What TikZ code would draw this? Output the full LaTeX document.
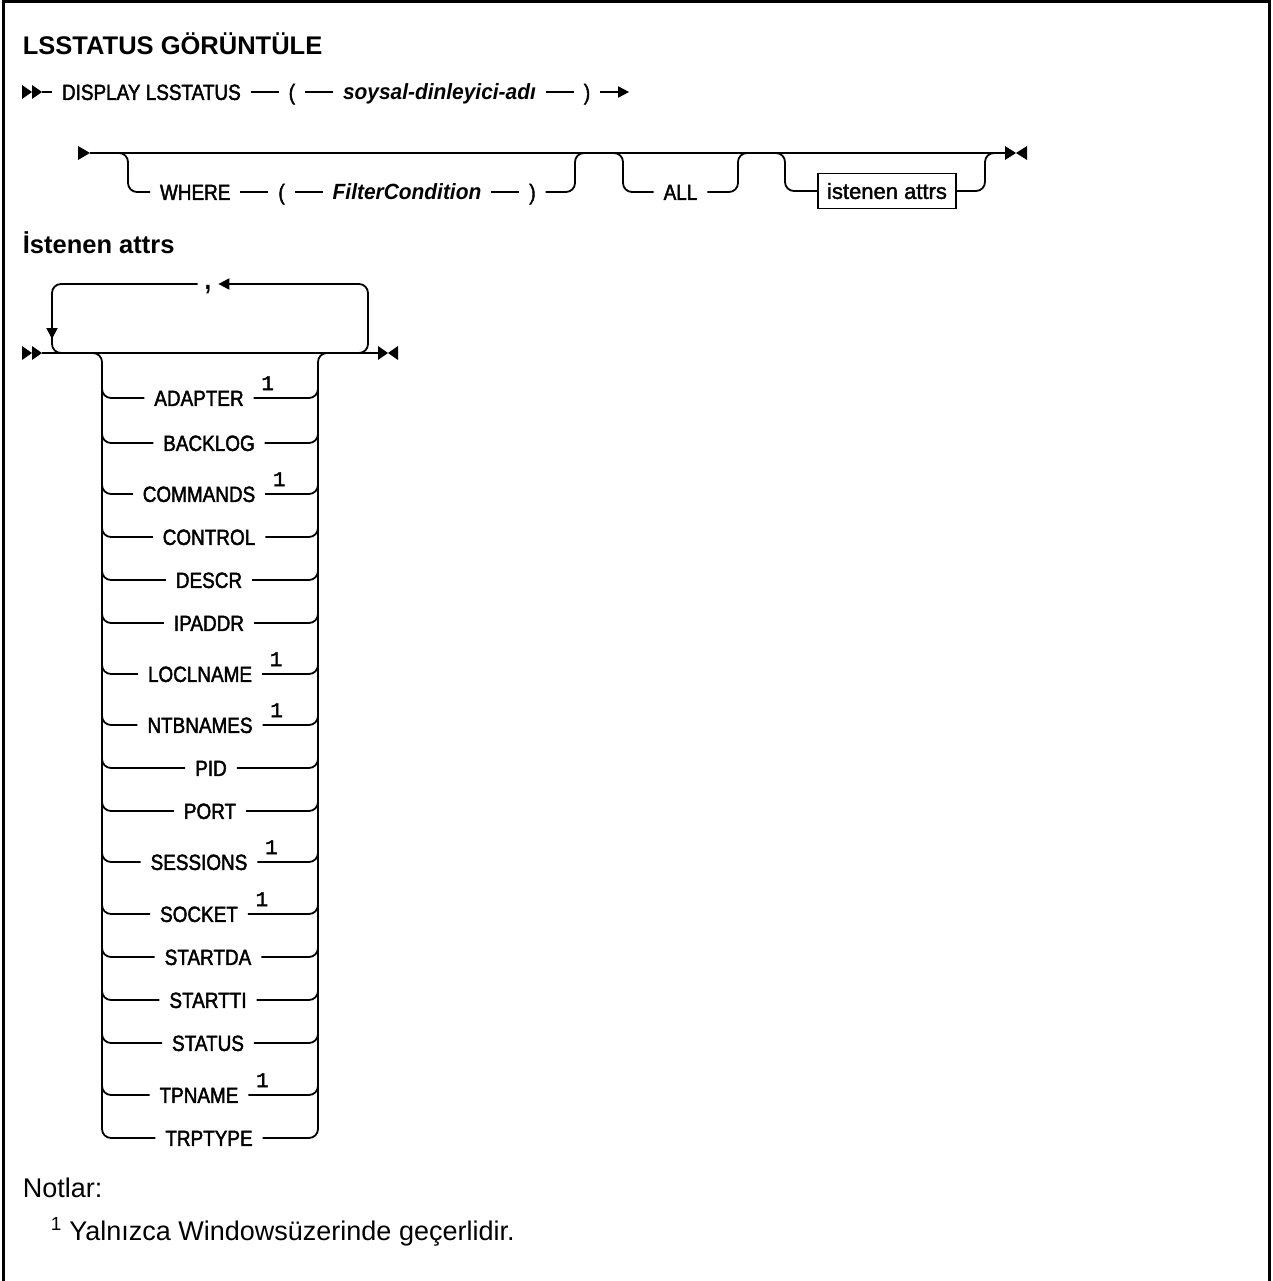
\documentclass[tikz,border=0pt]{standalone}
\usepackage{fontspec}
\setmainfont{Liberation Sans}
\newfontfamily\railfont[FakeStretch=0.86, UprightFeatures={FakeBold=2}]{Liberation Sans}
\newfontfamily\varfont[FakeStretch=0.95]{Liberation Sans}
\newfontfamily\boxfont[FakeBold=1.8]{Liberation Sans}
\newfontfamily\digitfont[FakeBold=1.6]{Liberation Mono}
\usetikzlibrary{arrows.meta, positioning}

\begin{document}
\begin{tikzpicture}[x=1pt, y=-1pt, line width=1.8pt,
  kw/.style={font=\railfont\fontsize{22}{26}\selectfont, inner sep=0pt, outer xsep=10pt, text height=15.8pt, text depth=0pt},
  var/.style={kw, font=\varfont\bfseries\itshape\fontsize{22}{26}\selectfont},
  attrbox/.style={draw, sharp corners, line width=1.4pt, font=\boxfont\fontsize{22}{26}\selectfont, inner xsep=9pt, inner ysep=0pt, minimum height=35pt, text height=15.8pt, text depth=0pt},
  sepmark/.style={font=\railfont\bfseries\fontsize{28}{30}\selectfont, inner sep=0pt, outer xsep=7pt, text height=10pt, text depth=0pt},
  fn/.style={font=\digitfont\fontsize{21}{22}\selectfont, inner sep=0pt, anchor=south},
  head/.style={font=\bfseries\fontsize{25.5}{30}\selectfont, inner sep=0pt, anchor=base west},
  note/.style={font=\fontsize{27}{32}\selectfont, inner sep=0pt, anchor=base west},
  rounded corners=9pt]
  \useasboundingbox (0,0) rectangle (1272,1281);
  \draw[line width=3pt, sharp corners] (3,1281) -- (3,1.5) -- (1269.5,1.5) -- (1269.5,1281);

  \node[head] (title) at (22,55) {LSSTATUS GÖRÜNTÜLE};

  \fill[sharp corners] (22,85) -- (32,92) -- (22,99) -- cycle;
  \fill[sharp corners] (32,85) -- (42,92) -- (32,99) -- cycle;
  \coordinate (s1) at (42,92);
  \node[kw, anchor=west] (display) at (52,92) {DISPLAY LSSTATUS};
  \node[kw, right=28pt of display] (lp1) {(};
  \node[var, right=28pt of lp1] (lname) {soysal-dinleyici-adı};
  \node[kw, right=28pt of lname] (rp1) {)};
  \coordinate[right=29pt of rp1] (e1);
  \draw (s1) -- (display);
  \draw (display) -- (lp1);
  \draw (lp1) -- (lname);
  \draw (lname) -- (rp1);
  \draw[-{Triangle[length=11pt, width=11pt]}] (rp1) -- (e1);

  \fill[sharp corners] (78,146) -- (90,153) -- (78,160) -- cycle;
  \coordinate (s2) at (90,153);
  \coordinate (e2) at (1005,153);
  \draw (s2) -- (e2);
  \fill[sharp corners] (1005,146) -- (1016,153) -- (1005,160) -- cycle;
  \fill[sharp corners] (1027,146) -- (1016,153) -- (1027,160) -- cycle;

  \node[kw, anchor=west] (where) at (150,192) {WHERE};
  \node[kw, right=28pt of where] (lp2) {(};
  \node[var, right=28pt of lp2] (filter) {FilterCondition};
  \node[kw, right=28pt of filter] (rp2) {)};
  \draw (118,153) -- (128,153) -- (128,192) -- (where);
  \draw (where) -- (lp2);
  \draw (lp2) -- (filter);
  \draw (filter) -- (rp2);
  \draw (rp2) -- (575,192) -- (575,153) -- (585,153);

  \node[kw] (all) at (680.5,192) {ALL};
  \draw (613,153) -- (623,153) -- (623,192) -- (all);
  \draw (all) -- (738,192) -- (738,153) -- (748,153);

  \node[attrbox] (attrs) at (887,191) {istenen attrs};
  \draw (775,153) -- (785,153) -- (785,191) -- (attrs);
  \draw (attrs) -- (985,191) -- (985,153) -- (995,153);

  \node[head] (subtitle) at (22,253) {İstenen attrs};

  \fill[sharp corners] (22,346) -- (32,353) -- (22,360) -- cycle;
  \fill[sharp corners] (32,346) -- (42,353) -- (32,360) -- cycle;
  \coordinate (s3) at (42,353);
  \coordinate (e3) at (378,353);
  \draw (s3) -- (e3);
  \fill[sharp corners] (378,346) -- (388,353) -- (378,360) -- cycle;
  \fill[sharp corners] (398,346) -- (388,353) -- (398,360) -- cycle;

  \node[sepmark] (comma) at (208,284) {,};
  \draw[-{Triangle[length=11pt, width=11pt]}] (358,353) -- (368,353) -- (368,284) -- (comma);
  \draw[-{Triangle[length=11pt, width=11pt]}] (comma) -- (52,284) -- (52,339);
  \draw (52,330) -- (52,353) -- (62,353);

  \node[kw] (adapter) at (199,398) {ADAPTER};
  \node[kw] (backlog) at (209,443) {BACKLOG};
  \node[kw] (commands) at (199,494) {COMMANDS};
  \node[kw] (control) at (209,537) {CONTROL};
  \node[kw] (descr) at (209,580) {DESCR};
  \node[kw] (ipaddr) at (209,623) {IPADDR};
  \node[kw] (loclname) at (200,674) {LOCLNAME};
  \node[kw] (ntbnames) at (200,725) {NTBNAMES};
  \node[kw] (pid) at (211,768) {PID};
  \node[kw] (port) at (210,811) {PORT};
  \node[kw] (sessions) at (199,862) {SESSIONS};
  \node[kw] (socket) at (199,914) {SOCKET};
  \node[kw] (startda) at (208,957) {STARTDA};
  \node[kw] (startti) at (208,1000) {STARTTI};
  \node[kw] (status) at (208,1043) {STATUS};
  \node[kw] (tpname) at (199,1095) {TPNAME};
  \node[kw] (trptype) at (209,1138) {TRPTYPE};

  \node[fn] (adapter1) at ([xshift=14pt, yshift=7pt]adapter.east) {1};
  \node[fn] (commands1) at ([xshift=14pt, yshift=7pt]commands.east) {1};
  \node[fn] (loclname1) at ([xshift=14pt, yshift=7pt]loclname.east) {1};
  \node[fn] (ntbnames1) at ([xshift=14pt, yshift=7pt]ntbnames.east) {1};
  \node[fn] (sessions1) at ([xshift=14pt, yshift=7pt]sessions.east) {1};
  \node[fn] (socket1) at ([xshift=14pt, yshift=7pt]socket.east) {1};
  \node[fn] (tpname1) at ([xshift=14pt, yshift=7pt]tpname.east) {1};

  \draw (92,353) -- (102,353) -- (102,1138) -- (trptype);
  \draw (trptype) -- (318,1138) -- (318,353) -- (328,353);
  \draw (102,383) -- (102,398) -- (adapter.west) (adapter.east) -- (318,398) -- (318,383);
  \draw (102,428) -- (102,443) -- (backlog.west) (backlog.east) -- (318,443) -- (318,428);
  \draw (102,479) -- (102,494) -- (commands.west) (commands.east) -- (318,494) -- (318,479);
  \draw (102,522) -- (102,537) -- (control.west) (control.east) -- (318,537) -- (318,522);
  \draw (102,565) -- (102,580) -- (descr.west) (descr.east) -- (318,580) -- (318,565);
  \draw (102,608) -- (102,623) -- (ipaddr.west) (ipaddr.east) -- (318,623) -- (318,608);
  \draw (102,659) -- (102,674) -- (loclname.west) (loclname.east) -- (318,674) -- (318,659);
  \draw (102,710) -- (102,725) -- (ntbnames.west) (ntbnames.east) -- (318,725) -- (318,710);
  \draw (102,753) -- (102,768) -- (pid.west) (pid.east) -- (318,768) -- (318,753);
  \draw (102,796) -- (102,811) -- (port.west) (port.east) -- (318,811) -- (318,796);
  \draw (102,847) -- (102,862) -- (sessions.west) (sessions.east) -- (318,862) -- (318,847);
  \draw (102,899) -- (102,914) -- (socket.west) (socket.east) -- (318,914) -- (318,899);
  \draw (102,942) -- (102,957) -- (startda.west) (startda.east) -- (318,957) -- (318,942);
  \draw (102,985) -- (102,1000) -- (startti.west) (startti.east) -- (318,1000) -- (318,985);
  \draw (102,1028) -- (102,1043) -- (status.west) (status.east) -- (318,1043) -- (318,1028);
  \draw (102,1080) -- (102,1095) -- (tpname.west) (tpname.east) -- (318,1095) -- (318,1080);

  \node[note] (notes) at (22,1197) {Notlar:};
  \node[note] (note1) at (50,1240) {\textsuperscript{1} Yalnızca Windowsüzerinde geçerlidir.};
\end{tikzpicture}
\end{document}
